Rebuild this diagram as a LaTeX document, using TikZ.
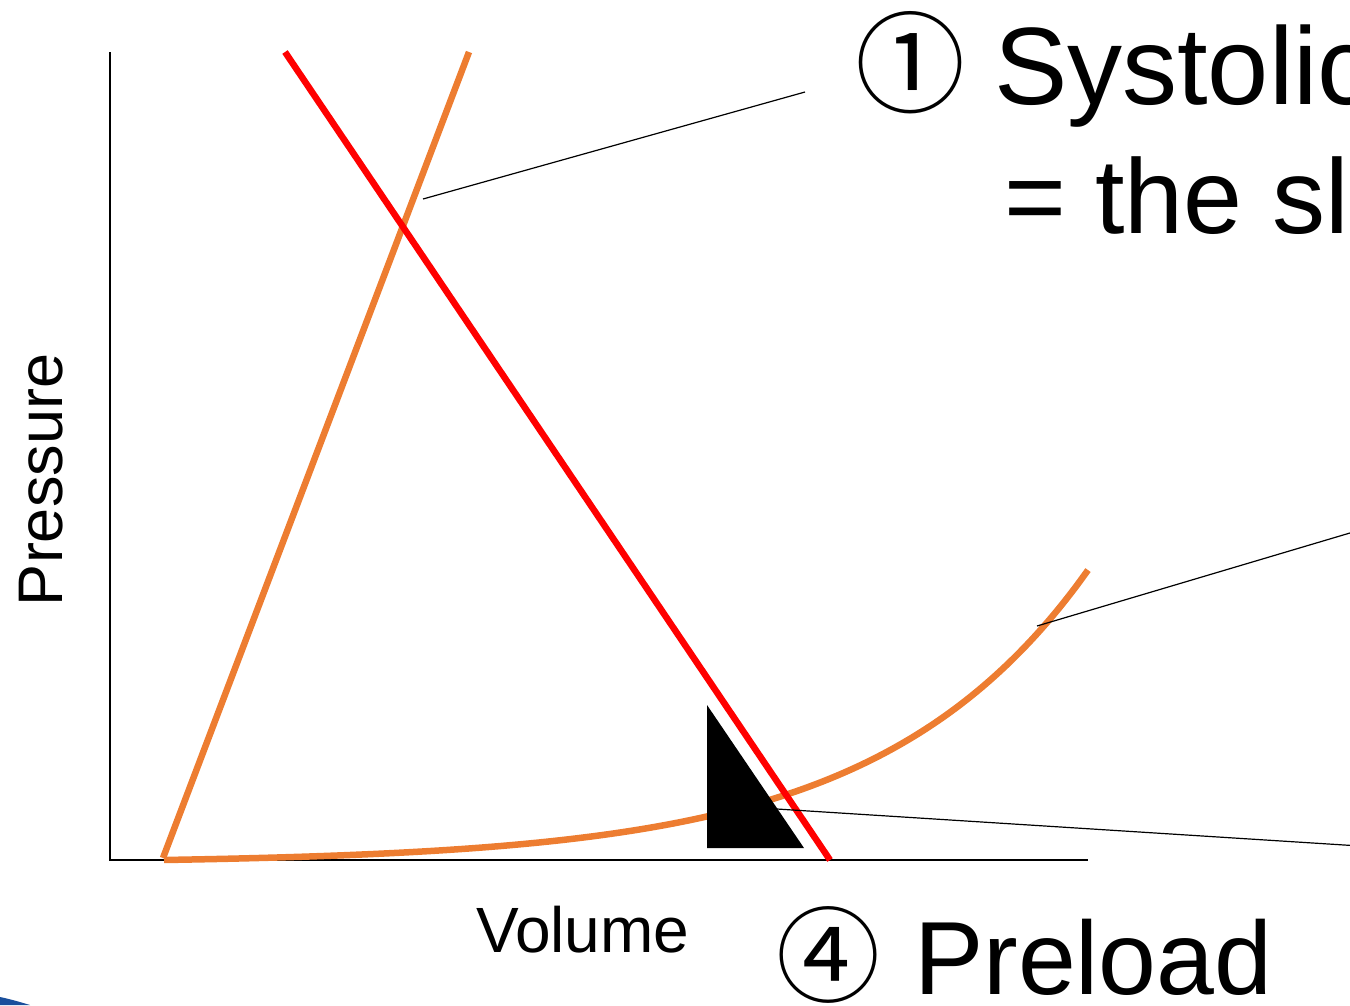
\documentclass[tikz,border=0pt]{standalone}
\usepackage{fontspec}
\setmainfont{Liberation Sans}
\newfontfamily\cjkfont{Noto Sans CJK JP}
\definecolor{pvorange}{HTML}{ED7D31}
\definecolor{pvred}{HTML}{FF0000}
\definecolor{cornerblue}{HTML}{1A4F9C}
\tikzset{
  axisline/.style={draw=black, line width=2.6pt, line join=miter},
  orangeline/.style={draw=pvorange, line width=6.5pt},
  redline/.style={draw=pvred, line width=6.5pt},
  leader/.style={draw=black, line width=1.2pt},
  lbl/.style={inner sep=0pt, outer sep=0pt, anchor=base west, text=black},
}
\begin{document}
\begin{tikzpicture}[x=1pt, y=-1pt]
\useasboundingbox (0,0) rectangle (1350,1005);
\clip (0,0) rectangle (1350,1005);
% corner sliver
\fill[cornerblue] (0,997) .. controls (10,999) and (20,1002) .. (30,1005) -- (0,1005) -- cycle;
% axes
\coordinate (ytop) at (110,52);
\coordinate (origin) at (110,860);
\coordinate (xend) at (1088,860);
\draw[axisline] (ytop) -- (origin) -- (xend);
% ESPVR (orange straight line)
\coordinate (espA) at (163,858);
\coordinate (espB) at (469,52);
\draw[orangeline] (espA) -- (espB);
% EDPVR (orange curve)
\draw[orangeline] plot[domain=164:1088, samples=80, smooth] (\x, {860-3.44*(exp(0.0048*(\x-163))-1)});
% red line
\coordinate (redA) at (285,52);
\coordinate (redB) at (830,860);
\draw[redline] (redA) -- (redB);
% black triangle
\fill[black] (707,705) -- (707,848) -- (804,848) -- cycle;
% leader lines
\coordinate (l1a) at (423,199);
\coordinate (l1b) at (805,92);
\draw[leader] (l1a) -- (l1b);
\coordinate (l2a) at (1037,626);
\coordinate (l2b) at (1360,530);
\draw[leader] (l2a) -- (l2b);
\coordinate (l3a) at (777,809);
\coordinate (l3b) at (1360,846);
\draw[leader] (l3a) -- (l3b);
% labels
\node[lbl] (vol) at (476,952) {\fontsize{64}{70}\selectfont Volume};
\node[lbl, rotate=90] (pres) at (62,606) {\fontsize{63}{70}\selectfont Pressure};
\node[lbl] (sys) at (855,104) {\fontsize{110}{120}\selectfont\makebox[139pt][l]{\cjkfont ①}Systolic};
\node[lbl] (slope) at (1004,233) {\fontsize{106}{120}\selectfont = the sl};
\node[lbl] (pre) at (776,994) {\fontsize{104}{110}\selectfont\makebox[138pt][l]{\cjkfont ④}Preload};
\end{tikzpicture}
\end{document}
